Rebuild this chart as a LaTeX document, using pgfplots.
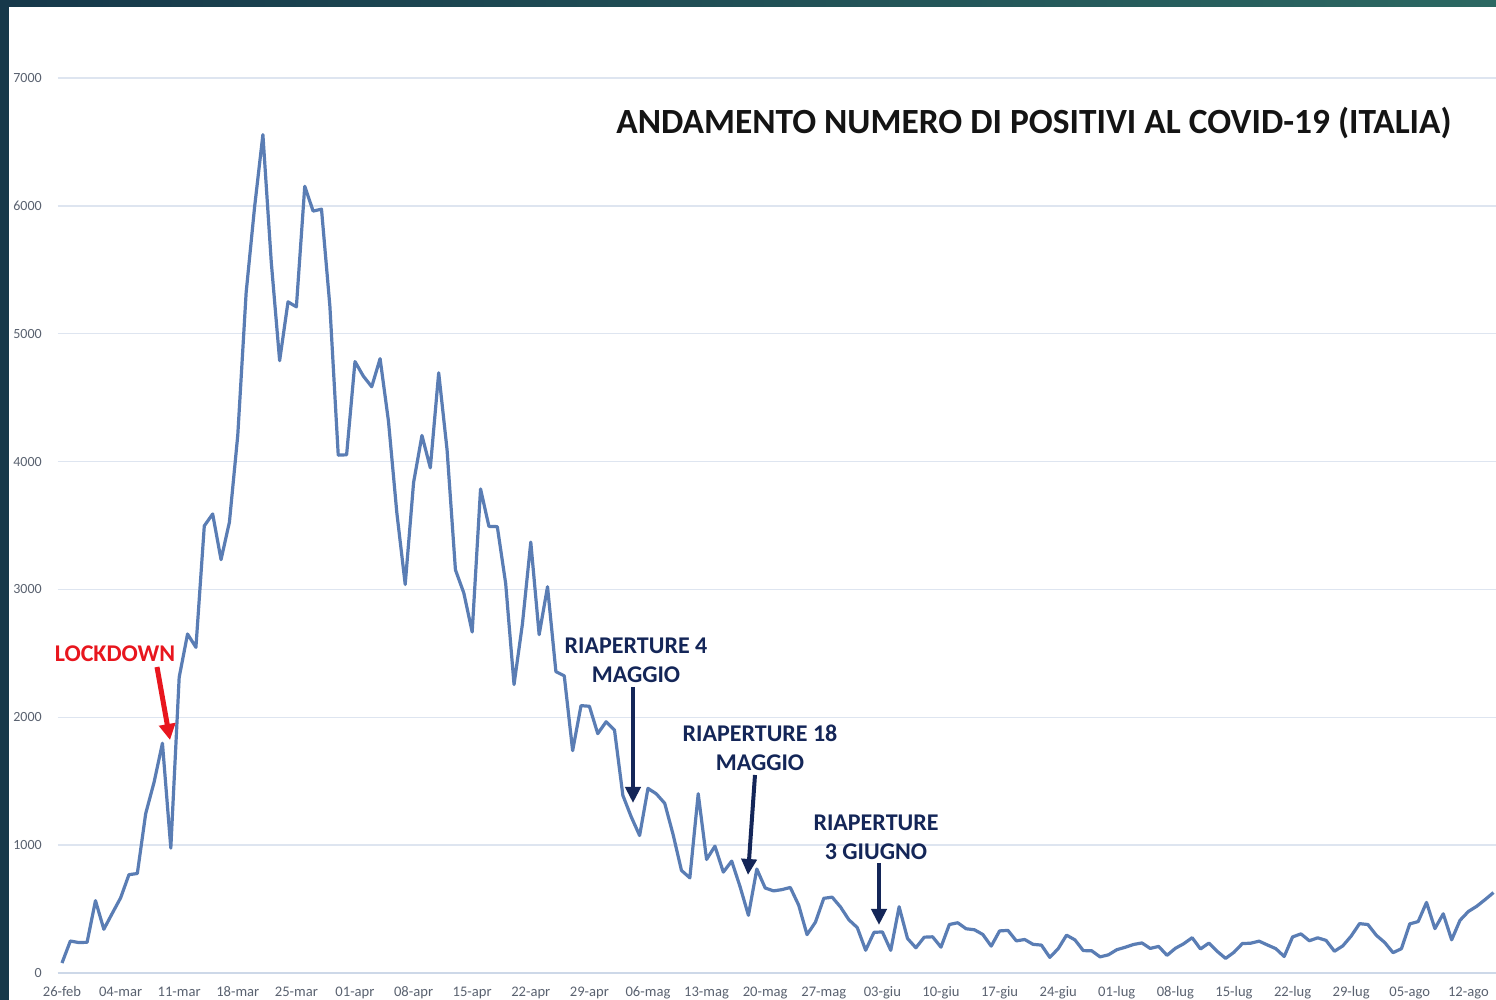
\documentclass[border=0pt]{standalone}
\usepackage{pgfplots}
\pgfplotsset{compat=1.18}
\usepackage{fontspec}
\setmainfont{Carlito}
\usetikzlibrary{arrows.meta}
\definecolor{frameA}{RGB}{22,56,74}
\definecolor{frameB}{RGB}{44,104,98}
\definecolor{gridc}{RGB}{222,229,240}
\definecolor{axc}{RGB}{205,216,232}
\definecolor{linec}{RGB}{90,125,180}
\definecolor{tickc}{RGB}{90,98,112}
\definecolor{navy}{RGB}{20,38,88}
\definecolor{redc}{RGB}{232,22,30}
\begin{document}
\begin{tikzpicture}
\useasboundingbox (0,0) rectangle (748pt,500pt);
\fill[white] (0,0) rectangle (748pt,500pt);
\begin{axis}[
  at={(28.9pt,13.5pt)}, anchor=south west,
  scale only axis, width=719.1pt, height=447.5pt,
  xmin=-0.5, xmax=171.3, ymin=0, ymax=7000,
  axis x line*=bottom, axis y line*=left,
  x axis line style={draw=axc, line width=0.8pt},
  y axis line style={draw=none},
  ymajorgrids, grid style={draw=gridc, line width=0.7pt},
  major tick length=0pt,
  xtick={0,7,...,168},
  xticklabels={26-feb,04-mar,11-mar,18-mar,25-mar,01-apr,08-apr,15-apr,22-apr,29-apr,06-mag,13-mag,20-mag,27-mag,03-giu,10-giu,17-giu,24-giu,01-lug,08-lug,15-lug,22-lug,29-lug,05-ago,12-ago},
  ytick={0,1000,...,7000},
  yticklabels={0,1000,2000,3000,4000,5000,6000,7000},
  ticklabel style={font=\fontsize{7}{8}\selectfont, text=tickc},
  xticklabel style={yshift=-3.3pt, font=\fontsize{7.3}{8}\selectfont},
  yticklabel style={xshift=-4.5pt},
]
\addplot[linec, line width=1.6pt, line join=round, no markers] table {
x y
0 78
1 250
2 238
3 240
4 566
5 342
6 466
7 587
8 769
9 778
10 1247
11 1492
12 1797
13 977
14 2313
15 2651
16 2547
17 3497
18 3590
19 3233
20 3526
21 4207
22 5322
23 5986
24 6557
25 5560
26 4789
27 5249
28 5210
29 6153
30 5959
31 5974
32 5217
33 4050
34 4053
35 4782
36 4668
37 4585
38 4805
39 4316
40 3599
41 3039
42 3836
43 4204
44 3951
45 4694
46 4092
47 3153
48 2972
49 2667
50 3786
51 3493
52 3491
53 3047
54 2256
55 2729
56 3370
57 2646
58 3021
59 2357
60 2324
61 1739
62 2091
63 2086
64 1872
65 1965
66 1900
67 1389
68 1221
69 1075
70 1444
71 1401
72 1327
73 1083
74 802
75 744
76 1402
77 888
78 992
79 789
80 875
81 675
82 451
83 813
84 665
85 642
86 652
87 669
88 531
89 300
90 397
91 584
92 593
93 516
94 416
95 355
96 178
97 318
98 321
99 177
100 518
101 270
102 197
103 280
104 283
105 202
106 379
107 393
108 346
109 338
110 301
111 210
112 329
113 333
114 251
115 262
116 224
117 218
118 122
119 190
120 296
121 259
122 175
123 174
124 126
125 142
126 182
127 201
128 223
129 235
130 192
131 208
132 138
133 193
134 229
135 276
136 188
137 234
138 169
139 114
140 162
141 230
142 233
143 249
144 219
145 190
146 129
147 282
148 306
149 252
150 275
151 255
152 170
153 212
154 289
155 386
156 379
157 295
158 239
159 159
160 190
161 384
162 402
163 552
164 347
165 463
166 259
167 412
168 481
169 522
170 574
171 629
};
\end{axis}
\begin{scope}[shift={(0pt,500pt)}, x=0.5pt, y=-0.5pt]
  \fill[frameA] (0,0) rectangle (9,1000);
  \shade[left color=frameA, right color=frameB] (0,0) rectangle (1496,7);
  \node[font=\fontsize{17.7}{20}\selectfont\bfseries, text=black!92] at (1034,123) {ANDAMENTO NUMERO DI POSITIVI AL COVID-19 (ITALIA)};
  \node[font=\fontsize{12}{14.5}\selectfont\bfseries, text=redc] at (115,654) {LOCKDOWN};
  \draw[redc, line width=2.5pt, -{Triangle[width=8pt,length=8pt]}] (157,667) -- (170,740);
  \node[font=\fontsize{12}{14.5}\selectfont\bfseries, text=navy, align=center] at (636,660) {RIAPERTURE 4\\MAGGIO};
  \draw[navy, line width=2pt, -{Triangle[width=7.5pt,length=8pt]}] (633,687) -- (633,803);
  \node[font=\fontsize{12}{14.5}\selectfont\bfseries, text=navy, align=center] at (760,748) {RIAPERTURE 18\\MAGGIO};
  \draw[navy, line width=2pt, -{Triangle[width=7.5pt,length=8pt]}] (755,775) -- (748,875);
  \node[font=\fontsize{12}{14.5}\selectfont\bfseries, text=navy, align=center] at (876,837) {RIAPERTURE\\3 GIUGNO};
  \draw[navy, line width=2pt, -{Triangle[width=7.5pt,length=8pt]}] (879,863) -- (879,925);
\end{scope}
\end{tikzpicture}
\end{document}
